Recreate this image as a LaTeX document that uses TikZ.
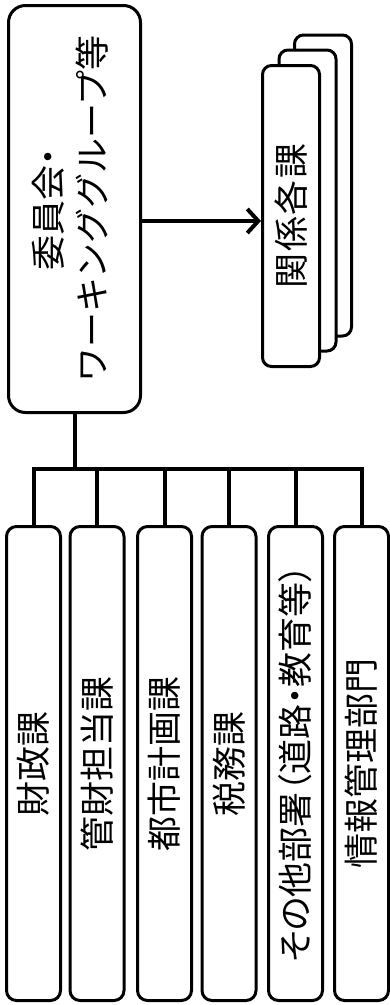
\documentclass[tikz,border=0pt]{standalone}
\usepackage{fontspec}
\usepackage{graphicx}
\setmainfont{Noto Sans CJK JP}
\usetikzlibrary{arrows.meta,calc}
\tikzstyle{unitbox}=[draw,line width=3pt,rounded corners=10pt,minimum width=54pt,minimum height=474pt,inner sep=0pt]
\tikzstyle{cardbox}=[draw,fill=white,line width=3pt,rounded corners=9pt,minimum width=57pt,minimum height=301pt,inner sep=0pt]
\tikzstyle{treeline}=[line width=4pt]
\newcommand{\vlabel}[1]{\rotatebox{90}{\fontsize{35}{45}\selectfont #1}}
\newcommand{\newunit}[3]{% Syntax: {name}{x of centre}{text}
	\node[unitbox] (#1) at (#2,763.5) {\vlabel{#3}};
}
\begin{document}
\begin{tikzpicture}[x=1pt,y=-1pt]
	\useasboundingbox (0,0) rectangle (390,1005);
	% committee box
	\node[draw,line width=3pt,rounded corners=17pt,minimum width=132pt,minimum height=407pt,inner sep=0pt] (main) at (74.5,209)
		{\rotatebox{90}{\fontsize{35}{45}\selectfont\begin{tabular}{@{}c@{}}{\addfontfeatures{RawFeature=+palt}委員会・}\\ワーキンググループ等\end{tabular}}};
	% stacked cards, back to front
	\node[cardbox] (back) at (323,185.5) {};
	\node[cardbox] (middle) at (307.5,200.5) {};
	\node[cardbox] (front) at (291,216) {\vlabel{\addfontfeatures{LetterSpace=4}関係各課}};
	\coordinate (arrowy) at (0,221);
	\draw[treeline,-{Straight Barb[length=11pt,width=24pt]}] (main.east |- arrowy) -- (front.west |- arrowy);
	% departments
	\newunit{zaisei}{33.5}{財政課}
	\newunit{kanzai}{97}{管財担当課}
	\newunit{toshi}{164.5}{都市計画課}
	\newunit{zeimu}{229}{税務課}
	\newunit{sonota}{295.5}{\addfontfeatures{RawFeature=+palt}その他部署（道路・教育等）}
	\newunit{joho}{361.5}{情報管理部門}
	% tree
	\coordinate (bus) at (0,469);
	\draw[treeline] (main.south) -- (main.south |- bus);
	\draw[treeline,line join=miter] (zaisei.north) -- (zaisei.north |- bus) -- (joho.north |- bus) -- (joho.north);
	\foreach \u in {kanzai,toshi,zeimu,sonota}
		\draw[treeline] (\u.north |- bus) -- (\u.north);
\end{tikzpicture}
\end{document}
